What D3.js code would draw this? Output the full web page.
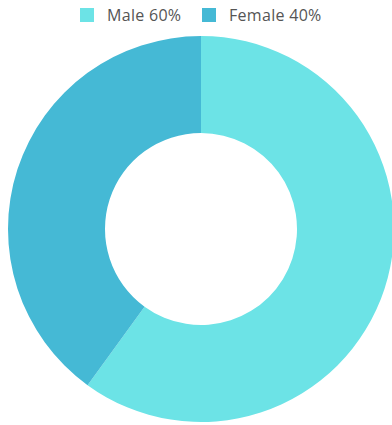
<!DOCTYPE html>
<html>
<head>
<meta charset="utf-8">
<script src="https://cdn.jsdelivr.net/npm/d3@7"></script>
<style>
  html, body { margin: 0; padding: 0; background: #fff; }
  svg { display: block; }
</style>
</head>
<body>
<svg id="chart" width="392" height="425"></svg>
<script>
// Gender split
const categories = ["Male", "Female"];
const values = [60, 40];
const colors = ["#6ce3e6", "#45b9d5"];

const svg = d3.select("#chart");
const cx = 201, cy = 229, outerR = 193, innerR = 96;

const pie = d3.pie().sort(null).value(d => d.value);
const arc = d3.arc().innerRadius(innerR).outerRadius(outerR);

const data = categories.map((c, i) => ({ name: c, value: values[i], color: colors[i] }));

svg.append("g")
  .attr("transform", `translate(${cx},${cy})`)
  .selectAll("path")
  .data(pie(data))
  .join("path")
  .attr("d", arc)
  .attr("fill", d => d.data.color);

// Legend
const total = d3.sum(values);
const legendX = [80, 202];
const legend = svg.append("g");
data.forEach((d, i) => {
  const g = legend.append("g").attr("transform", `translate(${legendX[i]},8)`);
  g.append("rect").attr("width", 14).attr("height", 14).attr("fill", d.color);
  g.append("text")
    .attr("x", 27).attr("y", 13)
    .attr("font-family", "Open Sans, sans-serif")
    .attr("font-size", 16)
    .attr("letter-spacing", 0.3)
    .attr("fill", "#555")
    .text(`${d.name} ${Math.round(d.value / total * 100)}%`);
});
</script>
</body>
</html>
